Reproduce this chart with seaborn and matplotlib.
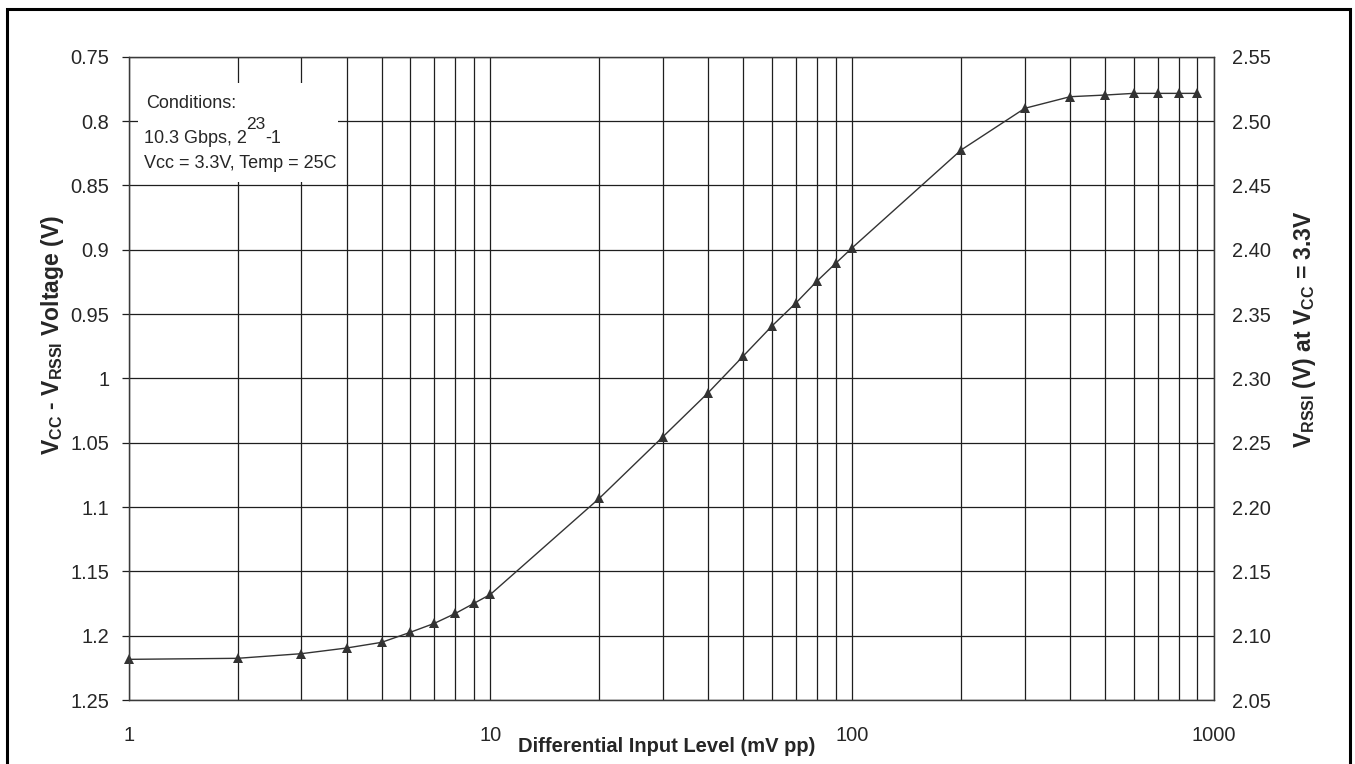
import matplotlib
matplotlib.use("Agg")
import matplotlib.pyplot as plt
import seaborn as sns
import pandas as pd
from matplotlib.patches import Rectangle
from matplotlib.ticker import FixedLocator, NullFormatter

# ---- data ----
input_mv = [1, 2, 3, 4, 5, 6, 7, 8, 9, 10, 20, 30, 40, 50, 60, 70, 80, 90, 100,
            200, 300, 400, 500, 600, 700, 800, 900]
vcc_minus_rssi = [1.2184, 1.2176, 1.214, 1.2096, 1.2052, 1.1974, 1.1904, 1.1827,
                  1.1749, 1.1679, 1.0932, 1.0453, 1.0111, 0.9826, 0.9593, 0.9412,
                  0.9243, 0.9106, 0.8985, 0.8225, 0.7901, 0.7811, 0.7798, 0.7785,
                  0.7785, 0.7785, 0.7785]
left_ticks = [0.75, 0.8, 0.85, 0.9, 0.95, 1.0, 1.05, 1.1, 1.15, 1.2, 1.25]
left_labels = ["0.75", "0.8", "0.85", "0.9", "0.95", "1", "1.05", "1.1", "1.15", "1.2", "1.25"]
right_ticks = [2.05, 2.10, 2.15, 2.20, 2.25, 2.30, 2.35, 2.40, 2.45, 2.50, 2.55]
right_labels = ["2.05", "2.10", "2.15", "2.20", "2.25", "2.30", "2.35", "2.40", "2.45", "2.50", "2.55"]
x_major = [1, 10, 100, 1000]
x_major_labels = ["1", "10", "100", "1000"]
x_minor = [2, 3, 4, 5, 6, 7, 8, 9, 20, 30, 40, 50, 60, 70, 80, 90,
           200, 300, 400, 500, 600, 700, 800, 900]

df = pd.DataFrame({"x": input_mv, "y": vcc_minus_rssi})

sns.set_style("white")
plt.rcParams["font.family"] = ["Liberation Sans", "DejaVu Sans"]
plt.rcParams["mathtext.fontset"] = "custom"
plt.rcParams["mathtext.rm"] = "Liberation Sans"
plt.rcParams["mathtext.it"] = "Liberation Sans:italic"
plt.rcParams["mathtext.bf"] = "Liberation Sans:bold"

W, H = 1355, 764
fig = plt.figure(figsize=(W / 100, H / 100), dpi=100)
fig.patch.set_facecolor("white")

def fx(px):
    return px / W

def fy(py):
    return 1 - py / H

ax = fig.add_axes([fx(128.7), fy(700), fx(1214) - fx(128.7), fy(56.7) - fy(700)])
ax.set_xscale("log")
ax.set_xlim(1, 1000)
ax.set_ylim(1.25, 0.75)

gcol = "#1e1e1e"
ax.set_axisbelow(True)
ax.xaxis.set_major_locator(FixedLocator(x_major))
ax.xaxis.set_minor_locator(FixedLocator(x_minor))
ax.set_xticklabels(x_major_labels)
ax.xaxis.set_minor_formatter(NullFormatter())
ax.set_yticks(left_ticks)
ax.set_yticklabels(left_labels)
ax.grid(True, which="both", axis="x", color=gcol, linewidth=0.9)
ax.grid(True, which="major", axis="y", color=gcol, linewidth=0.9)

ax.tick_params(axis="y", which="major", direction="out", length=5, width=0.9,
               color=gcol, labelsize=14.4, pad=9, left=True)
ax.tick_params(axis="x", which="both", length=0, labelsize=14.4, pad=19)
for s in ax.spines.values():
    s.set_color("#3a3a3a")
    s.set_linewidth(0.9)

# white box behind annotation
ax.add_patch(Rectangle((fx(138), fy(182)), fx(338) - fx(138), fy(83) - fy(182),
                       transform=fig.transFigure, facecolor="white",
                       edgecolor="none", zorder=1))

sns.lineplot(data=df, x="x", y="y", ax=ax, color="#333333", linewidth=1.0,
             marker="^", markersize=7.5, markeredgewidth=0,
             markerfacecolor="#333333", zorder=3, legend=False, clip_on=False)
ax.set_xlabel("")
ax.set_ylabel("")

ax2 = ax.twinx()
ax2.set_ylim(2.05, 2.55)
ax2.set_yticks(right_ticks)
ax2.set_yticklabels(right_labels)
ax2.tick_params(axis="y", length=0, labelsize=14.4, pad=13)
for s in ax2.spines.values():
    s.set_color("#3a3a3a")
    s.set_linewidth(0.9)
ax2.grid(False)

# annotation
fig.text(fx(145.7), fy(103), "Conditions:", fontsize=13, va="center", ha="left")
fig.text(fx(143.5), fy(163), "Vcc = 3.3V, Temp = 25C", fontsize=13, va="center", ha="left")
t1 = fig.text(fx(143.5), fy(143), "10.3 Gbps, 2", fontsize=13, va="baseline", ha="left")
renderer = fig.canvas.get_renderer()
bb1 = t1.get_window_extent(renderer)
t2 = fig.text(bb1.x1 / W, fy(129), "23", fontsize=12.5, va="baseline", ha="left")
bb2 = t2.get_window_extent(renderer)
fig.text(bb2.x1 / W, fy(143), "-1", fontsize=13, va="baseline", ha="left")

# axis titles
fig.text(fx(667), fy(747), "Differential Input Level (mV pp)", fontsize=14.5,
         fontweight="bold", ha="center", va="center")
fig.text(fx(52), fy(335), r"$\mathbf{V_{CC}}$ - $\mathbf{V_{RSSI}}$ Voltage (V)",
         fontsize=16.5, fontweight="bold", rotation=90, ha="center", va="center")
fig.text(fx(1305), fy(329), r"$\mathbf{V_{RSSI}}$ (V) at $\mathbf{V_{CC}}$ = 3.3V",
         fontsize=16.5, fontweight="bold", rotation=90, ha="center", va="center")

# outer frame
fig.patches.append(Rectangle((fx(7.5), -0.05), fx(1350) - fx(7.5), fy(9) + 0.05,
                             transform=fig.transFigure, facecolor="none",
                             edgecolor="black", linewidth=2.2, zorder=10))

fig.savefig("out.png", dpi=100)
